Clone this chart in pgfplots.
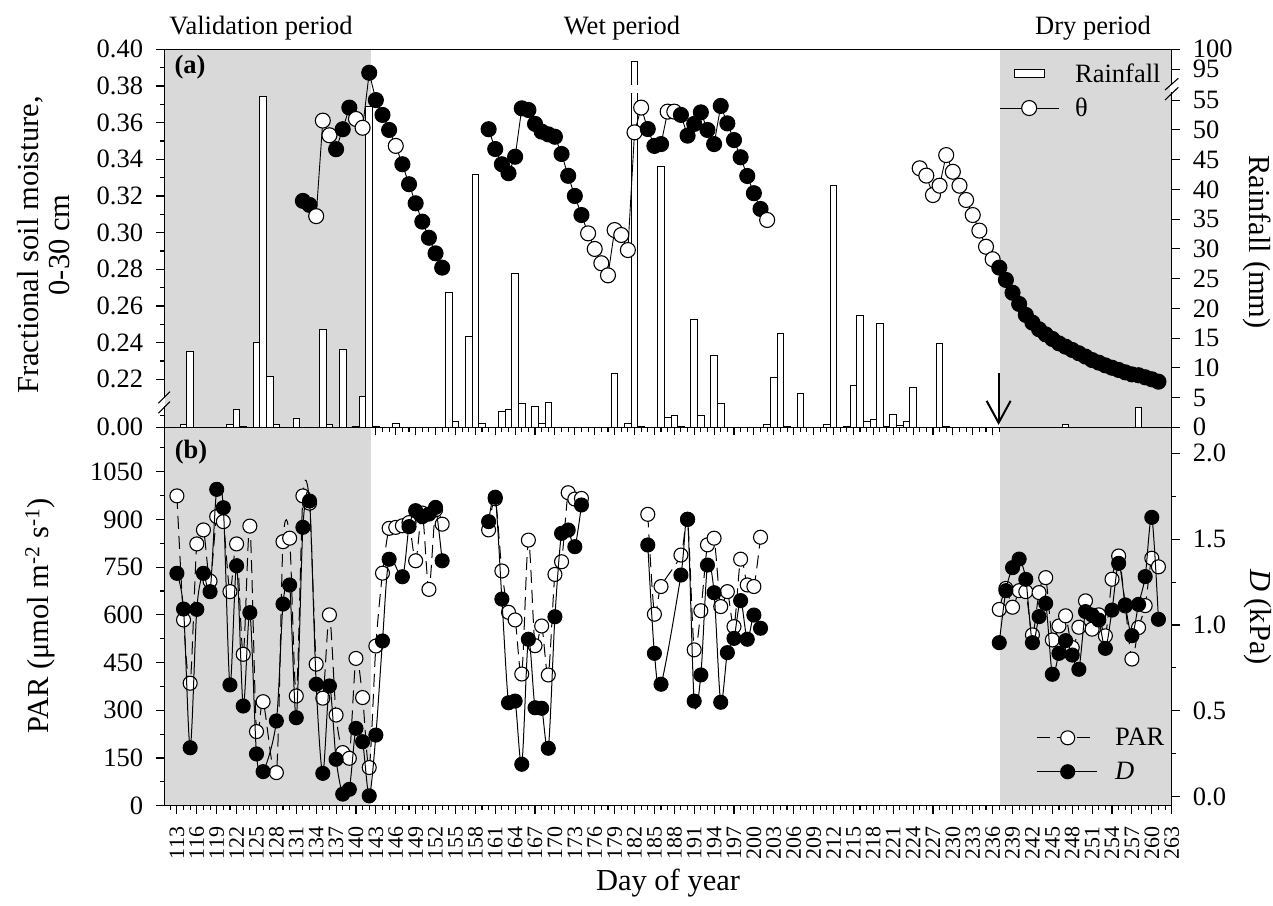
\documentclass[border=0pt]{standalone}
\usepackage{fontspec}
\setmainfont{Liberation Serif}
\usepackage{pgfplots}
\pgfplotsset{compat=1.18}
\usepackage{pgfplotstable}
\usetikzlibrary{arrows.meta}

\newcommand\tickfont{\fontsize{26.5}{30}\selectfont}
\newcommand\xtickfont{\fontsize{22}{24}\selectfont}
\newcommand\labfont{\fontsize{30.5}{31}\selectfont}

% soil moisture theta (cls: o = open, f = filled)
\pgfplotstableread{
day theta cls
132 0.3173 f
133 0.3151 f
134 0.3090 o
135 0.3611 o
136 0.3531 o
137 0.3455 f
138 0.3564 f
139 0.3682 f
140 0.3620 o
141 0.3572 o
142 0.3872 f
143 0.3723 f
144 0.3642 f
145 0.3560 f
146 0.3473 o
147 0.3373 f
148 0.3264 f
149 0.3160 f
150 0.3060 f
151 0.2972 f
152 0.2887 f
153 0.2809 f
154 nan o
160 0.3564 f
161 0.3456 f
162 0.3373 f
163 0.3324 f
164 0.3414 f
165 0.3678 f
166 0.3669 f
167 0.3593 f
168 0.3551 f
169 0.3536 f
170 0.3523 f
171 0.3429 f
172 0.3310 f
173 0.3200 f
174 0.3096 f
175 0.2996 o
176 0.2911 o
177 0.2833 o
178 0.2767 o
179 0.3014 o
180 0.2987 o
181 0.2905 o
182 0.3547 o
183 0.3682 o
184 0.3565 f
185 0.3473 f
186 0.3483 f
187 0.3660 o
188 0.3660 o
189 0.3642 f
190 0.3529 f
191 0.3593 f
192 0.3656 f
193 0.3560 f
194 0.3483 f
195 0.3691 f
196 0.3596 f
197 0.3505 f
198 0.3411 f
199 0.3309 f
200 0.3215 f
201 0.3129 f
202 0.3069 o
203 nan o
225 0.3351 o
226 0.3311 o
227 0.3205 o
228 0.3256 o
229 0.3423 o
230 0.3332 o
231 0.3256 o
232 0.3178 o
233 0.3096 o
234 0.3011 o
235 0.2923 o
236 0.2855 o
237 0.2809 f
238 0.2742 f
239 0.2672 f
240 0.2611 f
241 0.2551 f
242 0.2509 f
243 0.2473 f
244 0.2445 f
245 0.2420 f
246 0.2396 f
247 0.2378 f
248 0.2360 f
249 0.2342 f
250 0.2324 f
251 0.2305 f
252 0.2291 f
253 0.2276 f
254 0.2263 f
255 0.2251 f
256 0.2238 f
257 0.2227 f
258 0.2222 f
259 0.2211 f
260 0.2200 f
261 0.2187 f
}\thetadata

% rainfall (mm)
\pgfplotstableread{
day rain
114 0.5
115 12.8
121 0.5
122 3.0
123 0.2
125 14.3
126 55.7
127 8.6
128 0.5
131 1.45
135 16.5
136 0.5
138 13.1
140 0.2
141 5.2
142 53.9
143 0.2
146 0.7
154 22.7
155 0.9
157 15.3
158 42.6
159 0.7
162 2.7
163 2.95
164 25.9
165 3.95
167 3.5
168 0.7
169 4.2
179 9.05
181 0.7
182 97
183 0.2
186 43.8
187 1.7
188 1.95
189 0.2
191 18.1
192 1.95
194 12.05
195 3.95
202 0.5
203 8.3
204 15.8
205 0.2
207 5.7
211 0.5
212 40.6
214 0.2
215 7.0
216 18.8
217 0.9
218 1.3
219 17.4
220 0.2
221 2.2
222 0.3
223 0.9
224 6.7
228 14.1
229 0.2
247 0.5
258 3.3
}\raindata

% PAR (umol m-2 s-1)
\pgfplotstableread{
day par
113 974
114 584
115 385
116 823
117 867
118 706
119 909
120 893
121 673
122 823
123 476
124 879
125 233
126 327
128 104
129 830
130 841
131 345
132 974
133 951
134 445
135 338
136 600
137 285
138 167
139 149
140 463
141 340
142 120
143 502
144 731
145 872
146 875
147 880
148 890
149 770
150 920
151 680
152 930
153 885
154 nan
160 867
161 965
162 738
163 608
164 584
165 414
166 835
167 503
168 565
169 411
170 727
171 767
172 984
173 964
174 966
175 nan
184 916
185 602
186 689
189 788
190 900
191 490
192 613
193 820
194 841
195 626
196 673
197 563
198 775
199 694
200 689
201 844
202 nan
237 617
238 683
239 624
240 676
241 673
242 537
243 670
244 717
245 521
246 565
247 597
248 497
249 561
250 644
251 555
252 600
253 534
254 712
255 785
256 628
257 461
258 560
259 629
260 778
261 751
}\pardata

% vapour pressure deficit D (kPa)
\pgfplotstableread{
day D
113 1.301
114 1.093
115 0.285
116 1.091
117 1.301
118 1.194
119 1.790
120 1.683
121 0.651
122 1.345
123 0.528
124 1.072
125 0.249
126 0.146
128 0.441
129 1.122
130 1.233
131 0.460
132 1.569
133 1.722
134 0.655
135 0.136
136 0.645
137 0.218
138 0.015
139 0.043
140 0.398
141 0.320
142 0.005
143 0.359
144 0.907
145 1.383
147 1.281
148 1.573
149 1.666
150 1.631
151 1.646
152 1.685
153 1.374
154 nan
160 1.602
161 1.744
162 1.151
163 0.547
164 0.557
165 0.189
166 0.917
167 0.518
168 0.515
169 0.282
170 1.048
171 1.534
172 1.553
173 1.456
174 1.699
175 nan
184 1.466
185 0.835
186 0.655
189 1.291
190 1.616
191 0.557
192 0.709
193 1.349
194 1.188
195 0.550
196 0.839
197 0.922
198 1.142
199 0.917
200 1.058
201 0.981
202 nan
237 0.897
238 1.200
239 1.334
240 1.384
241 1.266
242 0.897
243 1.049
244 1.126
245 0.713
246 0.835
247 0.909
248 0.825
249 0.742
250 1.078
251 1.058
252 1.029
253 0.864
254 1.087
255 1.359
256 1.117
257 0.938
258 1.120
259 1.282
260 1.627
261 1.033
}\Ddata

\pgfplotsset{
  base/.style={
    scale only axis, width=1007.4pt,
    xmin=111.1, xmax=263,
    tick align=outside,
    major tick length=8pt, minor tick length=4.5pt,
    axis line style={-, line width=1.3pt},
    every tick/.style={line width=1.1pt, black},
    tick label style={font=\tickfont},
    /pgf/number format/assume math mode=true,
    unbounded coords=jump,
    yticklabel style={inner sep=0pt},
    xtick={113,116,...,263},
    minor xtick={112,113,...,263},
  },
  limgA/.style={legend image code/.code={\path (0pt,0pt) (75pt,0pt); \draw[mark repeat=2,mark phase=2,##1] plot coordinates {(0pt,0pt) (29.5pt,0pt) (59pt,0pt)};}},
  limgB/.style={legend image code/.code={\path (0pt,0pt) (78pt,0pt); \draw[mark repeat=2,mark phase=2,##1] plot coordinates {(0pt,0pt) (31pt,0pt) (60pt,0pt)};}},
}

\begin{document}
\begin{tikzpicture}[x=1pt,y=1pt]

% ---------- top panel: rainfall (right axis) ----------
\begin{axis}[base, at={(164.3pt,477.7pt)}, anchor=south west, height=378pt,
  ymin=0, ymax=63.562, hide x axis, axis y line*=right, axis on top,
  ytick={0,5,10,15,20,25,30,35,40,45,50,55,60.198,63.562},
  yticklabels={0,5,10,15,20,25,30,35,40,45,50,55,95,100},
  yticklabel shift=13pt]
\fill[gray!30] (axis cs:111.1,0) rectangle (axis cs:142.3,63.562);
\fill[gray!30] (axis cs:237.1,0) rectangle (axis cs:263,63.562);
\addplot[ybar, bar width=1, fill=white, draw=black, line width=0.9pt]
  table[x=day, y expr={\thisrow{rain}>60 ? 60.198+(\thisrow{rain}-95)*0.6726 : \thisrow{rain}}] {\raindata};
\fill[white] (axis cs:181.35,56.2) rectangle (axis cs:182.65,57.5);
\draw[line width=2pt, -{Straight Barb[length=22pt,width=24pt,line width=2pt]}] (axis cs:236.9,9.08) -- (axis cs:236.9,0.4);
\end{axis}

% ---------- top panel: soil moisture (left axis) ----------
\begin{axis}[base, at={(164.3pt,477.7pt)}, anchor=south west, height=378pt,
  ymin=0.193818, ymax=0.40, axis on top,
  xtick pos=bottom, xticklabels={}, ytick pos=left,
  ytick={0.193818,0.22,0.24,0.26,0.28,0.30,0.32,0.34,0.36,0.38,0.40},
  yticklabels={0.00,0.22,0.24,0.26,0.28,0.30,0.32,0.34,0.36,0.38,0.40},
  minor ytick={0.2004,0.23,0.25,0.27,0.29,0.31,0.33,0.35,0.37,0.39},
  yticklabel shift=13pt,
  legend style={draw=none, fill=none, font=\tickfont, at={(0.8286,0.962)}, anchor=north west,
    inner sep=0pt, row sep=14pt, nodes={inner sep=0pt}},
  legend cell align=left,
  /tikz/every even column/.append style={column sep=0pt}]
\addplot[black, line width=0.9pt, forget plot] table[x=day,y=theta] {\thetadata};
\addplot[only marks, scatter, scatter src=explicit symbolic, mark size=7.5pt, forget plot,
  scatter/classes={o={mark=*, draw=black, fill=white, line width=1.1pt},
                   f={mark=*, draw=black, fill=black, line width=1.1pt}}]
  table[x=day,y=theta,meta=cls] {\thetadata};
\addlegendimage{legend image code/.code={\path (0pt,0pt) (75pt,0pt); \draw[fill=white, draw=black, line width=0.9pt] (14.5pt,-4pt) rectangle (44.5pt,4pt);}}
\addlegendentry{Rainfall}
\addlegendimage{black, line width=0.9pt, mark=*, mark size=7.5pt, mark options={fill=white, line width=1.1pt}, limgA}
\addlegendentry{θ}
\end{axis}

% ---------- bottom panel: PAR (left axis) ----------
\begin{axis}[base, at={(164.3pt,99.3pt)}, anchor=south west, height=378.4pt,
  ymin=0, ymax=1189.6, axis on top, xtick pos=bottom, ytick pos=left,
  ytick={0,150,300,450,600,750,900,1050},
  yticklabels={0,150,300,450,600,750,900,1050},
  minor ytick={75,225,375,525,675,825,975,1125},
  xticklabel style={rotate=90, anchor=east, font=\xtickfont, inner sep=0pt},
  xticklabel shift=13pt, yticklabel shift=13pt]
\fill[gray!30] (axis cs:111.1,0) rectangle (axis cs:142.3,1189.6);
\fill[gray!30] (axis cs:237.1,0) rectangle (axis cs:263,1189.6);
\addplot[black, line width=1pt, dash pattern=on 13pt off 7pt, smooth, tension=0.5,
  mark=*, mark size=7pt, mark options={solid, fill=white, line width=1.1pt}]
  table[x=day,y=par] {\pardata};
\end{axis}

% ---------- bottom panel: D (right axis) ----------
\begin{axis}[base, at={(164.3pt,99.3pt)}, anchor=south west, height=378.4pt,
  ymin=-0.0524, ymax=2.1514, hide x axis, axis y line*=right,
  ytick={0,0.5,1,1.5,2}, yticklabels={0.0,0.5,1.0,1.5,2.0},
  minor ytick={0.25,0.75,1.25,1.75},
  yticklabel shift=13pt,
  legend style={draw=none, fill=none, font=\tickfont, at={(0.8653,0.205)}, anchor=north west,
    inner sep=0pt, row sep=15pt, nodes={inner sep=0pt}},
  legend cell align=left,
  /tikz/every even column/.append style={column sep=0pt}]
\addlegendimage{black, line width=1pt, dash pattern=on 13pt off 7pt, dash phase=0pt, mark=*, mark size=7pt, mark options={solid, fill=white, line width=1.1pt}, limgB}
\addlegendentry{PAR}
\addplot[black, line width=1pt, smooth, tension=0.5, mark=*, mark size=7pt,
  mark options={fill=black, line width=1.1pt}, limgB]
  table[x=day,y=D] {\Ddata};
\addlegendentry{\textit{D}}
\end{axis}

% ---------- axis breaks ----------
\fill[white] (162.4,498.5) rectangle (165.4,507);
\draw[line width=1.1pt] (158.3,491.7) -- (170,503.3);
\draw[line width=1.1pt] (158.3,501.7) -- (170,513.3);
\fill[white] (1170.2,812.5) rectangle (1173.2,820);
\draw[line width=1.1pt] (1165,805) -- (1178.3,817.7);
\draw[line width=1.1pt] (1165,815) -- (1178.3,826.7);

% ---------- texts ----------
\node[font=\tickfont] at (261,877) {Validation period};
\node[font=\tickfont] at (622,877) {Wet period};
\node[font=\tickfont] at (1093,877) {Dry period};
\node[font=\tickfont\bfseries] at (190,838) {(a)};
\node[font=\tickfont\bfseries] at (191,453) {(b)};
\node[font=\labfont, rotate=90, align=center] at (44,660) {Fractional soil moisture,\\0-30 cm};
\node[font=\labfont, rotate=90] at (40,289) {PAR (μmol m\textsuperscript{-2} s\textsuperscript{-1})};
\node[font=\labfont, rotate=-90] at (1257,663) {Rainfall (mm)};
\node[font=\labfont, rotate=-90] at (1258,288) {\textit{D} (kPa)};
\node[font=\labfont] at (668,22) {Day of year};

\pgfresetboundingbox
\useasboundingbox (0,0) rectangle (1273,905);
\end{tikzpicture}
\end{document}
